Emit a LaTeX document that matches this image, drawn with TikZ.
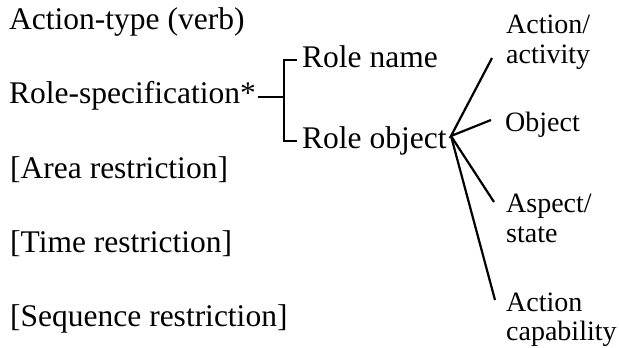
\documentclass[tikz,border=0pt]{standalone}
\usepackage{fontspec}
\setmainfont{Liberation Serif}
\begin{document}
\begin{tikzpicture}[x=1pt,y=-1pt,
  lefttxt/.style={anchor=base west,inner sep=0pt,font=\fontsize{31.5}{34}\selectfont},
  righttxt/.style={anchor=base west,inner sep=0pt,font=\fontsize{28}{31}\selectfont},
  conn/.style={line width=2.2pt,black}]
\useasboundingbox (0,0) rectangle (619,348);
% left column
\node[lefttxt] (at) at (9,29) {Action-type (verb)};
\node[lefttxt] (rs) at (9,103) {Role-specification*};
\node[lefttxt] (ar) at (10,178) {[Area restriction]};
\node[lefttxt] (tr) at (10,252) {[Time restriction]};
\node[lefttxt] (sr) at (10,326) {[Sequence restriction]};
% middle
\node[lefttxt] (rn) at (302,67) {Role name};
\node[lefttxt] (ro) at (302,148) {Role object};
% right column
\node[righttxt] (aa1) at (506,34) {Action/};
\node[righttxt] (aa2) at (506,63) {activity};
\node[righttxt] (ob) at (505,131) {Object};
\node[righttxt] (as1) at (506,212) {Aspect/};
\node[righttxt] (as2) at (506,242) {state};
\node[righttxt] (ac1) at (506,311) {Action};
\node[righttxt] (ac2) at (506,340) {capability};
% bracket
\coordinate (bm) at (284,97);
\coordinate (bt) at (284,60);
\coordinate (bb) at (284,141);
\draw[conn] ([xshift=2pt]bm -| rs.east) -- (bm);
\draw[conn] ([xshift=-5pt]bt -| rn.west) -- (bt) -- (bb) -- ([xshift=-5pt]bb -| ro.west);
% fan
\coordinate (fan) at (451,136);
\coordinate (eaa) at (492,58);
\coordinate (eob) at (491,120);
\coordinate (eas) at (494,202);
\coordinate (eac) at (495,300);
\draw[conn] (eaa) -- (fan) -- (eob);
\draw[conn] (fan) -- (eas);
\draw[conn] (fan) -- (eac);
\end{tikzpicture}
\end{document}
